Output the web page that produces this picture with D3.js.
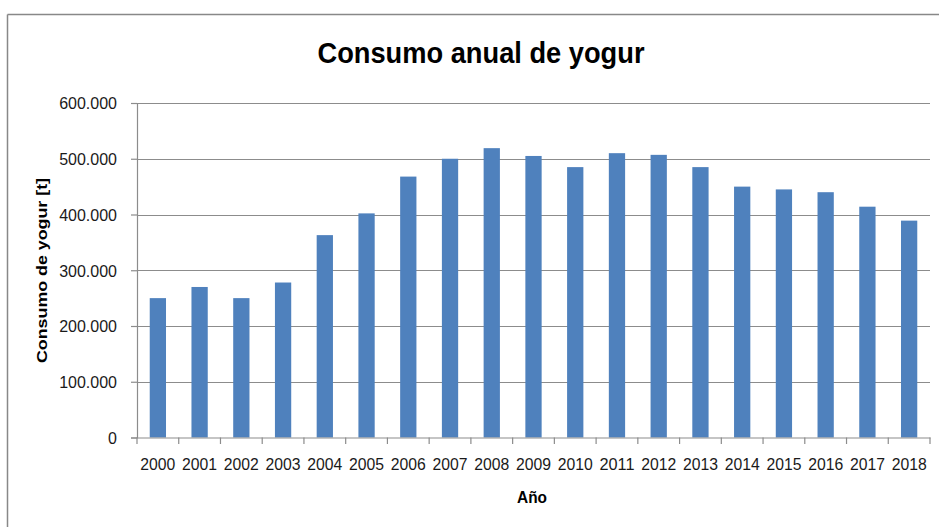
<!DOCTYPE html>
<html>
<head>
<meta charset="utf-8">
<script src="https://cdn.jsdelivr.net/npm/d3@7"></script>
<style>
  html, body { margin: 0; padding: 0; background: #fff; }
  svg { display: block; }
  text { font-family: "Liberation Sans", "DejaVu Sans", sans-serif; fill: #1a1a1a; }
</style>
</head>
<body>
<svg id="chart" width="939" height="527"></svg>
<script>
// ---- data ----
const years = ["2000","2001","2002","2003","2004","2005","2006","2007","2008","2009",
               "2010","2011","2012","2013","2014","2015","2016","2017","2018"];
const consumo = [250000, 270000, 250000, 278000, 363000, 402000, 468000, 500000, 519000, 505000,
                 485000, 510000, 507000, 485000, 450000, 445000, 440000, 414000, 389000];
const yTicks = [0, 100000, 200000, 300000, 400000, 500000, 600000];
const title = "Consumo anual de yogur";
const yTitle = "Consumo de yogur [t]";
const xTitle = "Año";

// ---- layout ----
const W = 939, H = 527;
const plot = { left: 137, right: 930, top: 103, bottom: 437.5 };
const gridColor = "#8c8c8c";
const barColor = "#4f81bd";

const svg = d3.select("#chart");

const locale = d3.formatLocale({ decimal: ",", thousands: ".", grouping: [3], currency: ["", ""] });
const fmt = locale.format(",");

const x = d3.scaleBand().domain(years).range([plot.left, plot.right]).padding(0);
const y = d3.scaleLinear().domain([0, 600000]).range([plot.bottom, plot.top]);

// chart frame (top & left visible)
svg.append("line").attr("x1", 7.5).attr("x2", W).attr("y1", 14.5).attr("y2", 14.5)
  .attr("stroke", "#888").attr("stroke-width", 1.5);
svg.append("line").attr("x1", 7.5).attr("x2", 7.5).attr("y1", 14.5).attr("y2", H)
  .attr("stroke", "#888").attr("stroke-width", 1.5);

// title
svg.append("text")
  .attr("x", 481).attr("y", 63)
  .attr("text-anchor", "middle")
  .attr("font-size", 29).attr("font-weight", "bold")
  .attr("textLength", 327).attr("lengthAdjust", "spacingAndGlyphs")
  .style("fill", "#000")
  .text(title);

// gridlines
svg.append("g").selectAll("line").data(yTicks.filter(d => d > 0)).join("line")
  .attr("x1", plot.left).attr("x2", plot.right)
  .attr("y1", d => Math.round(y(d)) + 0.5).attr("y2", d => Math.round(y(d)) + 0.5)
  .attr("stroke", gridColor).attr("stroke-width", 1.2);

// bars
const bw = x.bandwidth() * 0.39;
svg.append("g").selectAll("rect").data(years).join("rect")
  .attr("x", (d) => x(d) + (x.bandwidth() - bw) / 2)
  .attr("width", bw)
  .attr("y", (d, i) => y(consumo[i]))
  .attr("height", (d, i) => y(0) - y(consumo[i]))
  .attr("fill", barColor);

// y axis
const yAxis = d3.axisLeft(y).tickValues(yTicks).tickSize(6).tickPadding(14).tickFormat(fmt);
const gy = svg.append("g").attr("transform", `translate(${plot.left},0)`).call(yAxis);
gy.select(".domain").attr("stroke", gridColor).attr("stroke-width", 1.2);
gy.selectAll(".tick line").attr("stroke", gridColor).attr("stroke-width", 1.2);
gy.selectAll(".tick text").attr("font-size", 16).style("font-family", null).attr("dy", "0.36em");

// x axis
const xAxis = d3.axisBottom(x).tickSize(0).tickPadding(21);
const gx = svg.append("g").attr("transform", `translate(0,${plot.bottom})`).call(xAxis);
gx.select(".domain").attr("stroke", gridColor).attr("stroke-width", 1.2);
gx.selectAll(".tick text").attr("font-size", 16).style("font-family", null)
  .attr("textLength", 35).attr("lengthAdjust", "spacingAndGlyphs");
// category boundary ticks
const bounds = years.map(d => x(d)).concat([plot.right]);
svg.append("g").selectAll("line").data(bounds).join("line")
  .attr("x1", d => d).attr("x2", d => d)
  .attr("y1", plot.bottom).attr("y2", plot.bottom + 6.5)
  .attr("stroke", gridColor).attr("stroke-width", 1.2);

// axis titles
svg.append("text")
  .attr("transform", `translate(47,${270.5}) rotate(-90)`)
  .attr("text-anchor", "middle")
  .attr("font-size", 15).attr("font-weight", "bold")
  .attr("textLength", 185).attr("lengthAdjust", "spacingAndGlyphs")
  .style("fill", "#000")
  .text(yTitle);

svg.append("text")
  .attr("x", 532).attr("y", 503)
  .attr("text-anchor", "middle")
  .attr("font-size", 16).attr("font-weight", "bold")
  .attr("textLength", 30).attr("lengthAdjust", "spacingAndGlyphs")
  .style("fill", "#000")
  .text(xTitle);
</script>
</body>
</html>
